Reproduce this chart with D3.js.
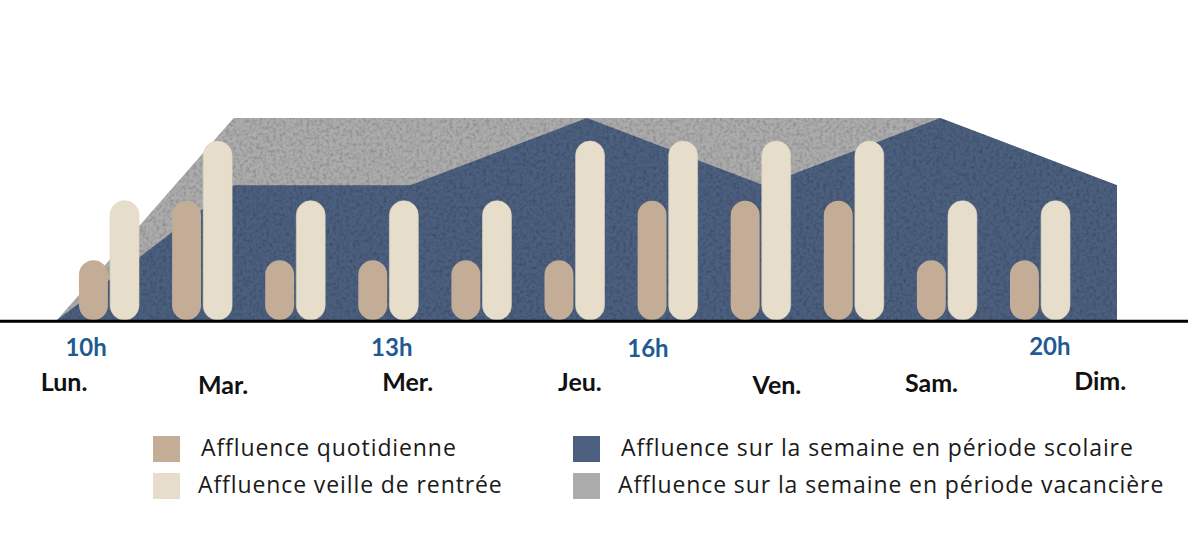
<!DOCTYPE html>
<html>
<head>
<meta charset="utf-8">
<script src="https://cdn.jsdelivr.net/npm/d3@7"></script>
<style>
  html, body { margin: 0; padding: 0; background: #fff; }
  svg { display: block; }
  text { font-family: Lato, "Open Sans", sans-serif; }
  .legend text { font-family: "Open Sans", Lato, sans-serif; }
</style>
</head>
<body>
<svg id="chart" width="1200" height="537"></svg>
<script>
// ---- data ----
var slots = ["1", "2", "3", "4", "5", "6", "7", "8", "9", "10", "11"];
var dailyValues = [1, 2, 1, 1, 1, 1, 2, 2, 2, 1, 1];      // Affluence quotidienne
var eveValues   = [2, 3, 2, 2, 2, 3, 3, 3, 3, 2, 2];      // Affluence veille de rentrée

var areaSteps      = [0, 2, 4, 6, 8, 10, 12];
var schoolValues   = [0, 2, 2, 3, 2, 3, 2];               // période scolaire
var holidayValues  = [0, 3, 3, 3, 3, 3, 2];               // période vacancière

var hourLabels = ["10h", "13h", "16h", "20h"];
var dayLabels  = ["Lun.", "Mar.", "Mer.", "Jeu.", "Ven.", "Sam.", "Dim."];
var legendLabels = ["Affluence quotidienne", "Affluence veille de rentrée",
                    "Affluence sur la semaine en période scolaire",
                    "Affluence sur la semaine en période vacancière"];

// ---- layout ----
var baseY = 320;
var hourPos = [0.33, 3.79, 6.69, 11.24];      // in area-step units
var hourDy  = [356, 356, 357, 355];
var dayPos  = [0.08, 1.88, 3.97, 5.92, 8.15, 9.9, 11.81];
var dayDy   = [391, 394, 391, 391, 394, 392, 390];

var colTan = "#c4ad97", colCream = "#e6decb", colDark = "#4c5f7f", colGrey = "#acacac";

var svg = d3.select("#chart");

// paper texture
var defs = svg.append("defs");
var f = defs.append("filter").attr("id", "paper")
    .attr("x", 0).attr("y", 0).attr("width", "100%").attr("height", "100%");
f.append("feTurbulence").attr("type", "fractalNoise").attr("baseFrequency", 0.3)
    .attr("numOctaves", 3).attr("seed", 4).attr("result", "noise");
f.append("feColorMatrix").attr("in", "noise").attr("type", "matrix")
    .attr("values", "0 0 0 0 0  0 0 0 0 0  0 0 0 0 0  0.8 0 0 0 -0.32")
    .attr("result", "spots");
f.append("feComposite").attr("in", "spots").attr("in2", "SourceGraphic").attr("operator", "atop");

// scales
var xArea = d3.scaleLinear().domain([0, 12]).range([57, 1117]);
var yArea = d3.scaleLinear().domain([0, 3]).range([baseY, 118]);

var xPair = d3.scaleBand().domain(slots).range([79, 1070]).paddingInner(0.3555).paddingOuter(0);
var xSub = d3.scaleBand().domain(["daily", "eve"]).range([0, xPair.bandwidth()]).paddingInner(0.07);
var yBar = d3.scaleLinear().domain([0, 3]).range([baseY, 141]);

// areas
var area = d3.area()
    .x(function (d) { return xArea(d.k); })
    .y0(baseY)
    .y1(function (d) { return yArea(d.v); });

var holiday = areaSteps.map(function (k, i) { return {k: k, v: holidayValues[i]}; });
var school = areaSteps.map(function (k, i) { return {k: k, v: schoolValues[i]}; });

svg.append("path").attr("d", area(holiday)).attr("fill", colGrey).attr("filter", "url(#paper)");
svg.append("path").attr("d", area(school)).attr("fill", colDark).attr("filter", "url(#paper)");

// bars
var bw = xSub.bandwidth();
var pairs = svg.append("g").selectAll("g")
    .data(slots)
    .enter().append("g")
    .attr("transform", function (d) { return "translate(" + xPair(d) + ",0)"; });

pairs.append("rect")
    .attr("x", xSub("daily"))
    .attr("y", function (d, i) { return yBar(dailyValues[i]); })
    .attr("width", bw)
    .attr("height", function (d, i) { return baseY - yBar(dailyValues[i]); })
    .attr("rx", bw / 2)
    .attr("fill", colTan);

pairs.append("rect")
    .attr("x", xSub("eve"))
    .attr("y", function (d, i) { return yBar(eveValues[i]); })
    .attr("width", bw)
    .attr("height", function (d, i) { return baseY - yBar(eveValues[i]); })
    .attr("rx", bw / 2)
    .attr("fill", colCream)
    .attr("stroke", "#ddd3bd")
    .attr("stroke-width", 0.6);

// baseline
svg.append("line")
    .attr("x1", 0).attr("x2", 1188)
    .attr("y1", baseY + 1.3).attr("y2", baseY + 1.3)
    .attr("stroke", "#000").attr("stroke-width", 3);

// hour labels
svg.append("g").selectAll("text")
    .data(hourLabels)
    .enter().append("text")
    .attr("x", function (d, i) { return xArea(hourPos[i]); })
    .attr("y", function (d, i) { return hourDy[i]; })
    .attr("text-anchor", "middle")
    .attr("font-size", 24)
    .attr("font-weight", 700)
    .attr("fill", "#1f5a92")
    .text(function (d) { return d; });

// day labels
svg.append("g").selectAll("text")
    .data(dayLabels)
    .enter().append("text")
    .attr("x", function (d, i) { return xArea(dayPos[i]); })
    .attr("y", function (d, i) { return dayDy[i]; })
    .attr("text-anchor", "middle")
    .attr("font-size", 25)
    .attr("font-weight", 700)
    .attr("fill", "#111")
    .text(function (d) { return d; });

// legend
var legendCols = [colTan, colCream, colDark, colGrey];
var legend = svg.append("g").attr("class", "legend").selectAll("g")
    .data(legendLabels)
    .enter().append("g")
    .attr("transform", function (d, i) {
        return "translate(" + (i < 2 ? 153 : 573) + "," + (i % 2 === 0 ? 436 : 473) + ")";
    });

legend.append("rect")
    .attr("width", 27).attr("height", 26)
    .attr("fill", function (d, i) { return legendCols[i]; });

legend.append("text")
    .attr("x", function (d, i) { return i % 2 === 0 ? 48 : 45; })
    .attr("y", 20)
    .attr("font-size", 23)
    .attr("font-weight", 400)
    .attr("letter-spacing", 0.9)
    .attr("fill", "#1a1a1a")
    .text(function (d) { return d; });
</script>
</body>
</html>
